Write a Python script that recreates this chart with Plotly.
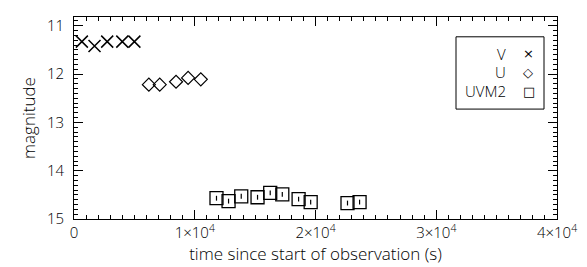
import plotly.graph_objects as go

# Data
v_time = [650, 1700, 2750, 4000, 5000]
v_mag = [11.33, 11.42, 11.33, 11.33, 11.33]

u_time = [6200, 7100, 8450, 9450, 10500]
u_mag = [12.22, 12.22, 12.16, 12.08, 12.11]

uvm2_time = [11800, 12800, 13850, 15200, 16250, 17250, 18600, 19600, 22650, 23650]
uvm2_mag = [14.57, 14.63, 14.53, 14.55, 14.46, 14.49, 14.59, 14.65, 14.67, 14.65]
uvm2_err = [0.05] * len(uvm2_time)

x_tickvals = [0, 10000, 20000, 30000, 40000]
x_ticktext = ["0", "1×10<sup>4</sup>", "2×10<sup>4</sup>", "3×10<sup>4</sup>", "4×10<sup>4</sup>"]
y_tickvals = [11, 12, 13, 14, 15]

legend_labels = ["V", "U", "UVM2"]
legend_symbols = ["×", "◇", "□"]

FONT = "Open Sans"
TICK_FS = 15
TITLE_FS = 17

fig = go.Figure()
fig.add_trace(go.Scatter(x=v_time, y=v_mag, mode="markers",
                         marker=dict(symbol="x-thin-open", size=12, color="black",
                                     line=dict(width=1.5, color="black"))))
fig.add_trace(go.Scatter(x=u_time, y=u_mag, mode="markers",
                         marker=dict(symbol="diamond-open", size=10, color="black",
                                     line=dict(width=1.2, color="black"))))
fig.add_trace(go.Scatter(x=uvm2_time, y=uvm2_mag, mode="markers",
                         error_y=dict(type="data", array=uvm2_err, width=0, thickness=1.2, color="black"),
                         marker=dict(symbol="square-open", size=13, color="black",
                                     line=dict(width=1.3, color="black"))))

axis_common = dict(showline=True, linecolor="black", linewidth=1, mirror="allticks",
                   ticks="inside", ticklen=9, tickcolor="black", tickwidth=1,
                   showgrid=False, zeroline=False,
                   tickfont=dict(family=FONT, size=TICK_FS, color="black", weight=300))

fig.update_xaxes(range=[0, 40000], tickvals=x_tickvals, ticktext=x_ticktext,
                 minor=dict(ticks="inside", ticklen=4, dtick=1000, tickcolor="black", showgrid=False),
                 ticklabelstandoff=0,
                 title=dict(text="time since start of observation (s)",
                            font=dict(family=FONT, size=TITLE_FS, color="black", weight=300), standoff=0),
                 **axis_common)
fig.update_yaxes(range=[15, 10.82], tickvals=y_tickvals,
                 minor=dict(ticks="inside", ticklen=4, dtick=0.1, tickcolor="black", showgrid=False),
                 ticklabelstandoff=6,
                 title=dict(text="magnitude", font=dict(family=FONT, size=TITLE_FS, color="black", weight=300),
                            standoff=6),
                 **axis_common)

# Legend box
fig.add_shape(type="rect", xref="paper", yref="paper",
              x0=(448 - 66) / 483, x1=(536 - 66) / 483,
              y0=(211 - 100) / 204, y1=(211 - 27) / 204,
              line=dict(color="black", width=1), fillcolor="white")
legend_y = [44, 63, 82]
for lab, sym, py in zip(legend_labels, legend_symbols, legend_y):
    yp = (211 - py) / 204
    fig.add_annotation(xref="paper", yref="paper", x=(499 - 66) / 483, y=yp, text=lab,
                       showarrow=False, xanchor="right", yanchor="middle", borderpad=0,
                       font=dict(family=FONT, size=TICK_FS, color="black", weight=300))
    fig.add_annotation(xref="paper", yref="paper", x=(514 - 66) / 483, y=yp, text=sym,
                       showarrow=False, xanchor="left", yanchor="middle", borderpad=0,
                       font=dict(family="DejaVu Sans", size=TICK_FS - 2, color="black"))

fig.update_layout(width=587, height=267, margin=dict(l=66, r=38, t=7, b=56),
                  plot_bgcolor="white", paper_bgcolor="white", showlegend=False)

fig.write_html("out.html")
